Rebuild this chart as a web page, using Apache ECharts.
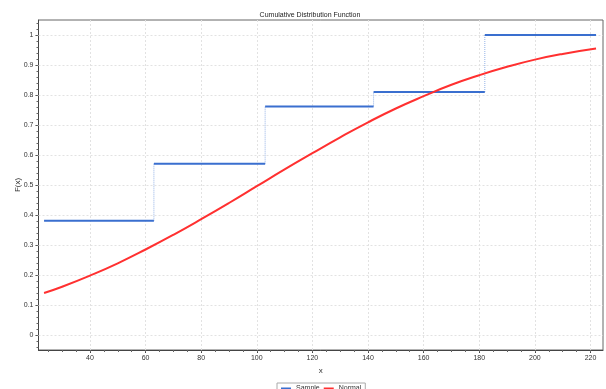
<!DOCTYPE html>
<html><head><meta charset="utf-8">
<script src="https://cdn.jsdelivr.net/npm/echarts@6/dist/echarts.min.js"></script>
<style>html,body{margin:0;padding:0;background:#fff}#c{width:606px;height:389px}</style>
</head><body><div id="c"></div>
<script>
// Sample empirical CDF (step positions and levels)
const stepX = [23.5, 63, 103, 142, 182, 222];
const stepY = [0.381, 0.571, 0.762, 0.810, 1.0];
// Fitted normal CDF
const normX = [23.5, 30, 40, 50, 60, 70, 80, 90, 100, 110, 120, 130, 140, 150, 160, 170, 180, 190, 200, 210, 222];
const normY = [0.140, 0.161, 0.198, 0.239, 0.285, 0.334, 0.386, 0.440, 0.496, 0.552, 0.606, 0.659, 0.709, 0.755, 0.796, 0.834, 0.866, 0.894, 0.918, 0.937, 0.955];
// Tick labels
const xTicks = [40, 60, 80, 100, 120, 140, 160, 180, 200, 220];
const yTicks = [0, 0.1, 0.2, 0.3, 0.4, 0.5, 0.6, 0.7, 0.8, 0.9, 1];
const xRange = [21.5, 224.5];
const yRange = [-0.05, 1.05];

const horiz = [], vert = [];
for (let i = 0; i < stepY.length; i++) {
  horiz.push([stepX[i], stepY[i]], [stepX[i+1], stepY[i]], null);
  if (i + 1 < stepY.length) vert.push([stepX[i+1], stepY[i]], [stepX[i+1], stepY[i+1]], null);
}
const normal = normX.map((x, i) => [x, normY[i]]);

// minor tick positions: subdivide major spacing
function minors(ticks, range, n) {
  const step = (ticks[1] - ticks[0]) / n, out = [];
  for (let v = ticks[0] - step * Math.floor((ticks[0] - range[0]) / step); v <= range[1] + 1e-9; v += step) {
    out.push(Math.round(v * 1e6) / 1e6);
  }
  return out;
}
const xMinor = minors(xTicks, xRange, 4);
const yMinor = minors(yTicks, yRange, 5);

const FF = "'Liberation Sans Narrow','Liberation Sans',Arial,sans-serif";
const txt = {fontFamily: FF, fontSize: 7, color: '#333'};
const gridLine = {color: '#e2e2e2', type: [2, 2], width: 1};

const chart = echarts.init(document.getElementById('c'), null, {renderer: 'canvas'});
chart.setOption({
  animation: false,
  backgroundColor: '#fff',
  title: {text: 'Cumulative Distribution Function', left: 305, textAlign: 'center', top: 7,
    textStyle: {fontFamily: FF, fontSize: 7, fontWeight: 'normal', color: '#222'}},
  grid: {left: 38.5, right: 3, top: 20, bottom: 39, show: true, borderColor: '#666', borderWidth: 1},
  legend: {top: 383, left: 277, itemWidth: 10, itemHeight: 2, itemGap: 4, padding: [2, 4],
    borderColor: '#aaa', borderWidth: 1, textStyle: txt,
    data: [{name: 'Sample', icon: 'rect'}, {name: 'Normal', icon: 'rect'}]},
  xAxis: [
    {type: 'value', min: xRange[0], max: xRange[1], name: 'x', nameLocation: 'middle', nameGap: 13,
      nameTextStyle: {fontFamily: FF, fontSize: 8, color: '#333'},
      axisLine: {onZero: false, lineStyle: {color: '#444'}},
      axisTick: {length: 3, lineStyle: {color: '#444'}, customValues: xTicks},
      axisLabel: Object.assign({margin: 5, customValues: xTicks}, txt),
      splitLine: {show: false}},
    {type: 'value', min: xRange[0], max: xRange[1], position: 'bottom',
      axisLine: {show: false, onZero: false}, axisLabel: {show: false}, splitLine: {show: false},
      axisTick: {show: true, length: 2, lineStyle: {color: '#666'}, customValues: xMinor}}
  ],
  yAxis: [
    {type: 'value', min: yRange[0], max: yRange[1], name: 'F(x)', nameLocation: 'middle', nameGap: 17,
      nameMoveOverlap: false,
      nameTextStyle: {fontFamily: FF, fontSize: 8, color: '#333'},
      axisLine: {show: true, onZero: false, lineStyle: {color: '#444'}},
      axisTick: {show: true, length: 3, lineStyle: {color: '#444'}, customValues: yTicks},
      axisLabel: Object.assign({margin: 5, customValues: yTicks}, txt),
      splitLine: {show: false}},
    {type: 'value', min: yRange[0], max: yRange[1], position: 'left',
      axisLine: {show: false, onZero: false}, axisLabel: {show: false}, splitLine: {show: false},
      axisTick: {show: true, length: 2, lineStyle: {color: '#666'}, customValues: yMinor}}
  ],
  series: [
    {name: 'grid', type: 'line', data: [], z: 1, silent: true,
      markLine: {z: 1, silent: true, symbol: 'none', label: {show: false}, lineStyle: gridLine, animation: false,
        emphasis: {disabled: true},
        data: xTicks.map(v => ({xAxis: v})).concat(yTicks.map(v => ({yAxis: v})))}},
    {name: 'SampleV', type: 'line', data: vert, showSymbol: false, connectNulls: false,
      lineStyle: {color: '#94b2e6', width: 1, type: [1, 1]}, z: 2},
    {name: 'Sample', type: 'line', data: horiz, showSymbol: false, connectNulls: false,
      lineStyle: {color: '#3a6fcf', width: 2}, itemStyle: {color: '#3a6fcf'}, z: 3},
    {name: 'Normal', type: 'line', data: normal, showSymbol: false, smooth: true,
      lineStyle: {color: '#ff3030', width: 2}, itemStyle: {color: '#ff3030'}, z: 4}
  ]
});
</script></body></html>
